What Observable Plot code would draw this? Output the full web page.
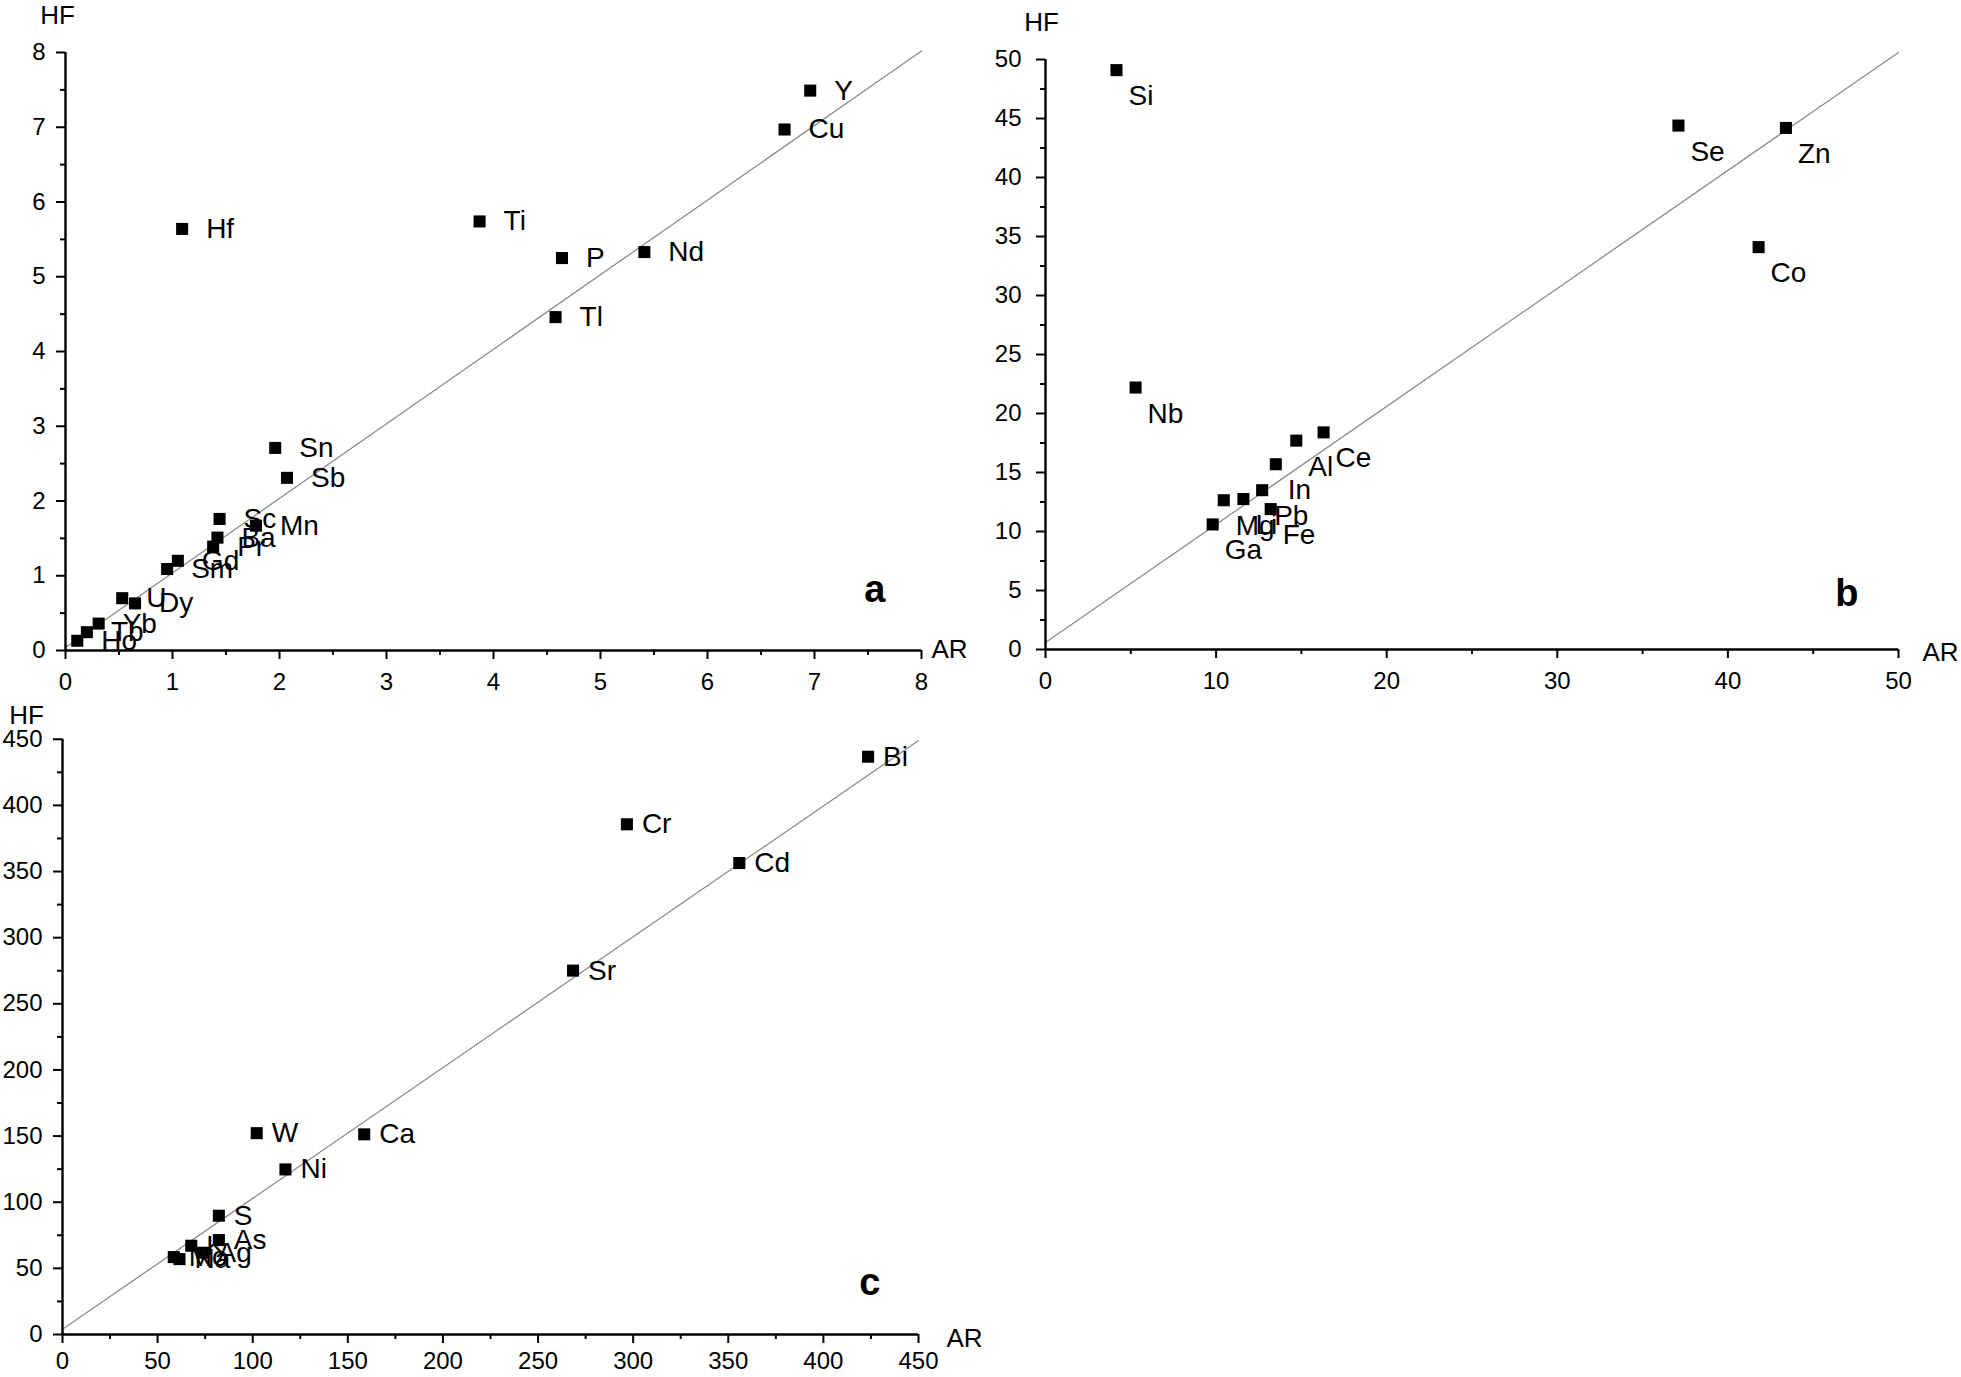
<!DOCTYPE html>
<html><head><meta charset="utf-8">
<script src="https://cdn.jsdelivr.net/npm/d3@7"></script>
<script src="https://cdn.jsdelivr.net/npm/@observablehq/plot@0.6"></script>
<style>
body{margin:0;background:#fff;}
#wrap{position:relative;width:1961px;height:1377px;overflow:hidden;background:#fff;}
.panel{position:absolute;}
.panel svg{overflow:visible;}
</style></head><body><div id="wrap"></div>
<script>
// ---- Panel a ----
const aLabels = ["Y","Cu","Hf","Ti","P","Nd","Tl","Sn","Sb","Sc","Mn","Ba","Pr","Gd","Sm","U","Dy","Yb","Tb","Ho"];
const aAR = [6.96,6.72,1.09,3.87,4.64,5.41,4.58,1.96,2.07,1.44,1.78,1.42,1.38,1.05,0.95,0.53,0.65,0.31,0.20,0.11];
const aHF = [7.49,6.97,5.64,5.74,5.25,5.33,4.46,2.71,2.31,1.76,1.67,1.51,1.39,1.20,1.09,0.70,0.63,0.36,0.245,0.13];
const aLine = [[0,0.04],[8,8.02]];
const aTicks = [0,1,2,3,4,5,6,7,8];
const aMinor = [0.5,1.5,2.5,3.5,4.5,5.5,6.5,7.5];

// ---- Panel b ----
const bLabels = ["Si","Se","Zn","Co","Nb","Ce","Al","In","Pb","Li","Mg","Fe","Ga"];
const bAR = [4.16,37.1,43.4,41.8,5.28,16.3,14.7,13.5,12.7,11.6,10.45,13.2,9.8];
const bHF = [49.1,44.4,44.2,34.1,22.2,18.4,17.7,15.7,13.5,12.75,12.65,11.9,10.6];
const bLine = [[0,0.6],[50,50.6]];
const bTicksX = [0,10,20,30,40,50];
const bMinorX = [5,15,25,35,45];
const bTicksY = [0,5,10,15,20,25,30,35,40,45,50];
const bMinorY = [2.5,7.5,12.5,17.5,22.5,27.5,32.5,37.5,42.5,47.5];

// ---- Panel c ----
const cLabels = ["Bi","Cr","Cd","Sr","Ca","W","Ni","S","As","K","Ag","Mo","Na"];
const cAR = [423.5,296.7,355.8,268.4,158.6,102.1,117.2,82.2,82.2,67.7,73.6,58.5,61.5];
const cHF = [436.8,385.7,356.4,275.1,151.3,152.2,124.8,89.8,71.4,67.1,61.8,58.5,57.0];
const cLine = [[0,4],[450,449]];
const cTicks = [0,50,100,150,200,250,300,350,400,450];
const cMinor = [25,75,125,175,225,275,325,375,425];

const FONT = '"Liberation Sans", Arial, Helvetica, sans-serif';

function panel(o) {
  const data = o.labels.map((l, i) => ({label: l, ar: o.ar[i], hf: o.hf[i]}));
  const line = o.line.map(([x, y]) => ({x, y}));
  const dom = o.domain;
  return Plot.plot({
    width: o.width, height: o.height,
    marginLeft: o.m[0], marginRight: o.m[1], marginTop: o.m[2], marginBottom: o.m[3],
    x: {domain: [0, dom], axis: null},
    y: {domain: [0, dom], axis: null},
    style: {fontFamily: FONT, fontSize: "24px", color: "black", background: "transparent", overflow: "visible"},
    marks: [
      Plot.line(line, {x: "x", y: "y", stroke: "#8c8c8c", strokeWidth: 1.3}),
      Plot.axisX({ticks: o.minorX, tickSize: 5, tickFormat: () => "", strokeWidth: 2}),
      Plot.axisX({ticks: o.ticksX, tickSize: 9, tickPadding: o.xPad, fontSize: 24, strokeWidth: 2, ariaLabel: "xmajor"}),
      Plot.axisY({ticks: o.minorY, tickSize: 5, tickFormat: () => "", strokeWidth: 2}),
      Plot.axisY({ticks: o.ticksY, tickSize: 9, tickPadding: o.yPad, fontSize: 24, strokeWidth: 2}),
      Plot.ruleY([0], {stroke: "black", strokeWidth: 2.4}),
      Plot.ruleX([0], {stroke: "black", strokeWidth: 2.4}),
      Plot.dot(data, {x: "ar", y: "hf", symbol: "square", r: 6.8, fill: "black", stroke: null}),
      Plot.text(data, {x: "ar", y: "hf", text: "label", textAnchor: "start", dx: o.labDx, dy: o.labDy, fontSize: 28, fill: "black"}),
      Plot.text([{x: dom, y: 0, t: "AR"}], {x: "x", y: "y", text: "t", textAnchor: "start", dx: o.arDx, dy: o.arDy, fontSize: 26}),
      Plot.text([{x: 0, y: dom, t: "HF"}], {x: "x", y: "y", text: "t", dx: o.hfDx, dy: o.hfDy, fontSize: 26}),
      Plot.text([o.letter], {text: d => d, frameAnchor: "bottom-right", dx: o.letDx, dy: o.letDy, fontSize: 38, fontWeight: "bold"})
    ]
  });
}

const wrap = document.getElementById("wrap");
function place(svg, left, top) {
  const d = document.createElement("div");
  d.className = "panel";
  d.style.left = left + "px";
  d.style.top = top + "px";
  d.appendChild(svg);
  wrap.appendChild(d);
  return svg;
}

place(panel({
  labels: aLabels, ar: aAR, hf: aHF, line: aLine, domain: 8,
  ticksX: aTicks, minorX: aMinor, ticksY: aTicks, minorY: aMinor,
  width: 980, height: 700, m: [65, 59, 52, 50],
  xPad: 13, yPad: 11, labDx: 24, labDy: 0,
  arDx: 10, arDy: -1, hfDx: -8, hfDy: -37,
  letter: "a", letDx: -36, letDy: -49
}), 0, 0);

place(panel({
  labels: bLabels, ar: bAR, hf: bHF, line: bLine, domain: 50,
  ticksX: bTicksX, minorX: bMinorX, ticksY: bTicksY, minorY: bMinorY,
  width: 981, height: 700, m: [65, 63, 59, 51],
  xPad: 13, yPad: 15, labDx: 12, labDy: 26,
  arDx: 24, arDy: 3, hfDx: -4, hfDy: -37,
  letter: "b", letDx: -40, letDy: -44
}), 980, 0);

const svgC = place(panel({
  labels: cLabels, ar: cAR, hf: cHF, line: cLine, domain: 450,
  ticksX: cTicks, minorX: cMinor, ticksY: cTicks, minorY: cMinor,
  width: 980, height: 687, m: [62, 62, 48.75, 43],
  xPad: 8, yPad: 11, labDx: 15, labDy: 0,
  arDx: 28, arDy: 4, hfDx: -36, hfDy: -24,
  letter: "c", letDx: -38, letDy: -40
}), 0, 690);

// panel c x tick labels are horizontally condensed in the reference
svgC.querySelectorAll('g[aria-label="xmajor"] text, g[aria-label="x-axis tick label"] text').forEach(t => {
  const s = t.textContent;
  if (!s) return;
  const len = t.getComputedTextLength();
  if (len > 0) {
    t.setAttribute("textLength", (len * 0.74).toFixed(1));
    t.setAttribute("lengthAdjust", "spacingAndGlyphs");
  }
});
</script>
</body></html>
